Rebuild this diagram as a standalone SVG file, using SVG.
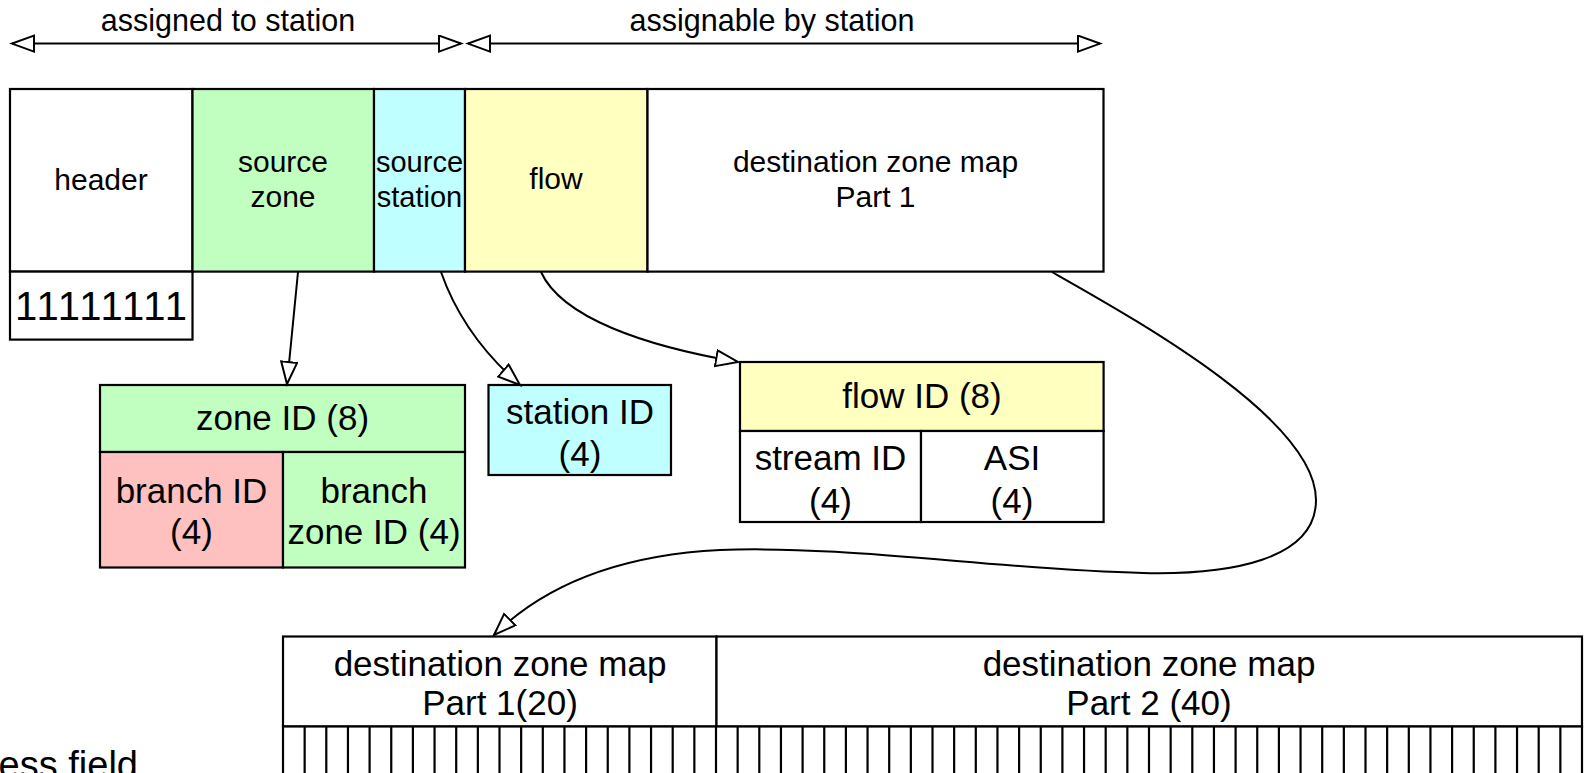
<svg xmlns="http://www.w3.org/2000/svg" width="1589" height="773" viewBox="0 0 1589 773">
<style>
.b{stroke:#000;stroke-width:2.2;}
.t{font-family:"Liberation Sans",Arial,sans-serif;fill:#000;text-anchor:middle;}
.s29{font-size:30px;}
.s35{font-size:35px;}
.c{fill:none;stroke:#000;stroke-width:2;}
</style>
<defs>
<marker id="ah" markerUnits="userSpaceOnUse" markerWidth="26" markerHeight="20" refX="23" refY="9" orient="auto-start-reverse">
<path d="M1,1 L23,9 L1,17 Z" fill="#fff" stroke="#000" stroke-width="2"/>
</marker>
</defs>
<rect width="1589" height="773" fill="#fff"/>
<g id="span-assigned">
<line class="c" x1="12" y1="43.6" x2="461" y2="43.6" marker-start="url(#ah)" marker-end="url(#ah)"/>
<text class="t s29" x="228" y="31" style="font-size:30.5px">assigned to station</text>
</g>
<g id="span-assignable">
<line class="c" x1="468" y1="43.6" x2="1100" y2="43.6" marker-start="url(#ah)" marker-end="url(#ah)"/>
<text class="t s29" x="772" y="31" style="font-size:30.5px">assignable by station</text>
</g>
<g id="header">
<rect class="b" x="10" y="89" width="182.5" height="182.6" fill="#fff"/>
<text class="t s29" x="101" y="190">header</text>
</g>
<g id="header-bits">
<rect class="b" x="10" y="271.6" width="182.5" height="68" fill="#fff"/>
<text class="t" style="font-size:40px" x="101" y="320" textLength="172" lengthAdjust="spacing">11111111</text>
</g>
<g id="source-zone">
<rect class="b" x="192.5" y="89" width="181.5" height="182.6" fill="#c0ffc0"/>
<text class="t s29" x="283" y="172">source</text>
<text class="t s29" x="283" y="207">zone</text>
</g>
<g id="source-station">
<rect class="b" x="374" y="89" width="91" height="182.6" fill="#c0ffff"/>
<text class="t s29" x="419.5" y="172" style="font-size:29px">source</text>
<text class="t s29" x="419.5" y="207" style="font-size:29px">station</text>
</g>
<g id="flow">
<rect class="b" x="465" y="89" width="182.5" height="182.6" fill="#ffffc0"/>
<text class="t s29" x="556" y="189">flow</text>
</g>
<g id="dest-map-part1">
<rect class="b" x="647.5" y="89" width="456" height="182.6" fill="#fff"/>
<text class="t s29" x="875.5" y="172">destination zone map</text>
<text class="t s29" x="875.5" y="207">Part 1</text>
</g>
<g id="zone-id">
<rect class="b" x="100" y="385" width="365" height="67" fill="#c0ffc0"/>
<text class="t s35" x="282.5" y="430">zone ID (8)</text>
<rect class="b" x="100" y="452" width="183" height="115.5" fill="#ffc0c0"/>
<text class="t s35" x="191.5" y="503">branch ID</text>
<text class="t s35" x="191.5" y="544">(4)</text>
<rect class="b" x="283" y="452" width="182" height="115.5" fill="#c0ffc0"/>
<text class="t s35" x="374" y="503">branch</text>
<text class="t s35" x="374" y="544">zone ID (4)</text>
</g>
<g id="station-id">
<rect class="b" x="488.5" y="385" width="182.5" height="90" fill="#c0ffff"/>
<text class="t s35" x="580" y="424">station ID</text>
<text class="t s35" x="580" y="466">(4)</text>
</g>
<g id="flow-id">
<rect class="b" x="740" y="362" width="363.6" height="69" fill="#ffffc0"/>
<text class="t s35" x="922" y="408">flow ID (8)</text>
<rect class="b" x="740" y="431" width="181" height="91" fill="#fff"/>
<text class="t s35" x="830.5" y="470">stream ID</text>
<text class="t s35" x="830.5" y="513">(4)</text>
<rect class="b" x="921" y="431" width="182.6" height="91" fill="#fff"/>
<text class="t s35" x="1012" y="470">ASI</text>
<text class="t s35" x="1012" y="513">(4)</text>
</g>
<g id="dest-map-bottom">
<rect class="b" x="283" y="636.5" width="433.5" height="90" fill="#fff"/>
<text class="t s35" x="500" y="676">destination zone map</text>
<text class="t s35" x="500" y="715">Part 1(20)</text>
<rect class="b" x="716.5" y="636.5" width="865.5" height="90" fill="#fff"/>
<text class="t s35" x="1149" y="676">destination zone map</text>
<text class="t s35" x="1149" y="715">Part 2 (40)</text>
<rect class="b" x="283" y="726.5" width="1299" height="60" fill="#fff"/>
<path class="b" fill="none" d="M304.65,726.5V786M326.3,726.5V786M347.95,726.5V786M369.6,726.5V786M391.25,726.5V786M412.9,726.5V786M434.55,726.5V786M456.2,726.5V786M477.85,726.5V786M499.5,726.5V786M521.15,726.5V786M542.8,726.5V786M564.45,726.5V786M586.1,726.5V786M607.75,726.5V786M629.4,726.5V786M651.05,726.5V786M672.7,726.5V786M694.35,726.5V786M716,726.5V786M737.65,726.5V786M759.3,726.5V786M780.95,726.5V786M802.6,726.5V786M824.25,726.5V786M845.9,726.5V786M867.55,726.5V786M889.2,726.5V786M910.85,726.5V786M932.5,726.5V786M954.15,726.5V786M975.8,726.5V786M997.45,726.5V786M1019.1,726.5V786M1040.75,726.5V786M1062.4,726.5V786M1084.05,726.5V786M1105.7,726.5V786M1127.35,726.5V786M1149,726.5V786M1170.65,726.5V786M1192.3,726.5V786M1213.95,726.5V786M1235.6,726.5V786M1257.25,726.5V786M1278.9,726.5V786M1300.55,726.5V786M1322.2,726.5V786M1343.85,726.5V786M1365.5,726.5V786M1387.15,726.5V786M1408.8,726.5V786M1430.45,726.5V786M1452.1,726.5V786M1473.75,726.5V786M1495.4,726.5V786M1517.05,726.5V786M1538.7,726.5V786M1560.35,726.5V786"/>
</g>
<g id="caption">
<text class="t" style="font-size:38px;text-anchor:end" x="138" y="778">ess field</text>
</g>
<g id="connectors">
<path class="c" d="M298,272 L287,384" marker-end="url(#ah)"/>
<path class="c" d="M441,272 C455,312 482,352 520,385" marker-end="url(#ah)"/>
<path class="c" d="M541,272 C562,318 645,346 738,362" marker-end="url(#ah)"/>
<path class="c" d="M1052,272 C1140,322 1316,420 1316,500 C1316,560 1230,575 1143,573 C1000,570 850,545 720,550 C620,555 545,585 494,635" marker-end="url(#ah)"/>
</g>
</svg>
